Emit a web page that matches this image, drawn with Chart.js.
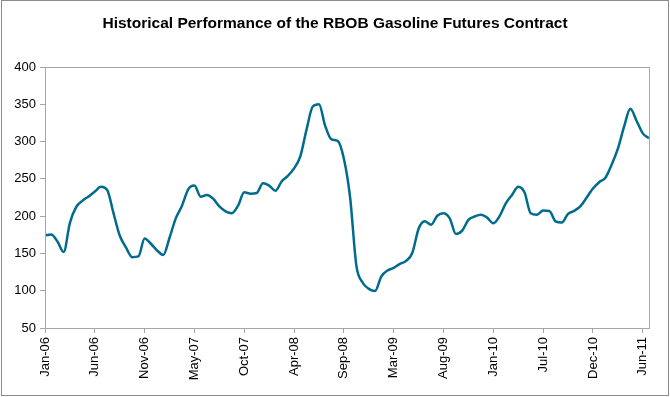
<!DOCTYPE html>
<html>
<head>
<meta charset="utf-8">
<script src="https://cdn.jsdelivr.net/npm/chart.js@4/dist/chart.umd.min.js"></script>
<style>
    html, body { margin: 0; padding: 0; background: #fff; }
    canvas { display: block; }
</style>
</head>
<body>
<canvas id="chart01" width="670" height="397"></canvas>
<script>
// RBOB gasoline futures, cents/gal, one reading every 3 weeks from Jan-06
const prices = [
    174, 175.5, 166, 152, 191, 212, 220.5, 226.5, 233, 239.5,
    235, 204, 174, 158, 145, 146, 170, 163, 154, 148,
    171, 197, 214, 236, 241, 226, 228.5, 223.5, 213, 206.5,
    204, 214, 232, 230, 231, 244, 241, 234, 246.5, 254,
    264, 280, 316, 347, 350, 321, 303, 301, 277, 225,
    134, 111, 102.5, 99.5, 119, 127, 130.5, 136, 140, 151,
    183, 193, 188.5, 200.5, 204, 197, 176, 180.5, 195, 199.5,
    202, 198, 190.5, 200, 217, 228.5, 239.5, 232, 204, 202,
    207.5, 207, 193, 191.5, 203, 207, 213.5, 225, 237, 245.5,
    251.5, 269, 290.5, 320, 344, 328, 311, 304.5
];

// one label every 8 readings (24 weeks)
const tickLabels = [
    'Jan-06', 'Jun-06', 'Nov-06', 'May-07', 'Oct-07', 'Apr-08', 'Sep-08',
    'Mar-09', 'Aug-09', 'Jan-10', 'Jul-10', 'Dec-10', 'Jun-11'
];
const tickEvery = 8;

const yTicks = [50, 400, 50]; // min, max, step

const font = "'Liberation Sans', Arial, sans-serif";

const frame = {
    id: 'frame',
    beforeDraw(chart) {
        const ctx = chart.ctx;
        ctx.save();
        ctx.fillStyle = '#fff';
        ctx.fillRect(0, 0, chart.width, chart.height);
        ctx.strokeStyle = '#8c8c8c';
        ctx.lineWidth = 1;
        ctx.strokeRect(1.5, 0.5, chart.width - 3, chart.height - 2);
        ctx.restore();
    },
    afterDraw(chart) {
        const a = chart.chartArea;
        const ctx = chart.ctx;
        ctx.save();
        ctx.strokeStyle = '#a6a6a6';
        ctx.lineWidth = 1;
        ctx.strokeRect(Math.round(a.left) + 0.5, Math.round(a.top) + 0.5,
            Math.round(a.right - a.left), Math.round(a.bottom - a.top));
        ctx.restore();
    }
};

new Chart(document.getElementById('chart01'), {
    type: 'line',
    data: {
        datasets: [{
            label: 'RBOB Gasoline',
            data: prices.map((v, i) => ({x: i, y: v})),
            borderColor: '#006b8c',
            borderWidth: 2.5,
            pointRadius: 0,
            cubicInterpolationMode: 'monotone',
            fill: false
        }]
    },
    options: {
        responsive: false,
        animation: false,
        layout: {
            padding: 0
        },
        plugins: {
            legend: {display: false},
            tooltip: {enabled: false},
            title: {
                display: true,
                text: 'Historical Performance of the RBOB Gasoline Futures Contract',
                color: '#000',
                font: {family: font, size: 15.5, weight: 'bold'},
                padding: {top: 14, bottom: 34.4}
            }
        },
        scales: {
            x: {
                type: 'linear',
                min: 0,
                max: prices.length - 1,
                afterFit(scale) { scale.height = 69; },
                border: {display: true, color: '#a6a6a6'},
                grid: {
                    display: true,
                    drawOnChartArea: false,
                    drawTicks: true,
                    tickLength: 5,
                    color: '#a6a6a6'
                },
                ticks: {
                    stepSize: tickEvery,
                    includeBounds: false,
                    autoSkip: false,
                    minRotation: 90,
                    maxRotation: 90,
                    padding: 4,
                    color: '#000',
                    font: {family: font, size: 13},
                    callback: value => tickLabels[value / tickEvery]
                }
            },
            y: {
                min: yTicks[0],
                max: yTicks[1],
                afterFit(scale) { scale.width = 45; },
                border: {display: true, color: '#a6a6a6'},
                grid: {
                    display: true,
                    drawOnChartArea: false,
                    drawTicks: true,
                    tickLength: 5,
                    color: '#a6a6a6'
                },
                ticks: {
                    stepSize: yTicks[2],
                    padding: 4,
                    color: '#000',
                    font: {family: font, size: 13}
                }
            },
            // empty margin on the right so the title stays centred on the page
            gap: {
                position: 'right',
                afterFit(scale) { scale.width = 21; },
                border: {display: false},
                grid: {display: false},
                ticks: {display: false}
            }
        }
    },
    plugins: [frame]
});
</script>
</body>
</html>
